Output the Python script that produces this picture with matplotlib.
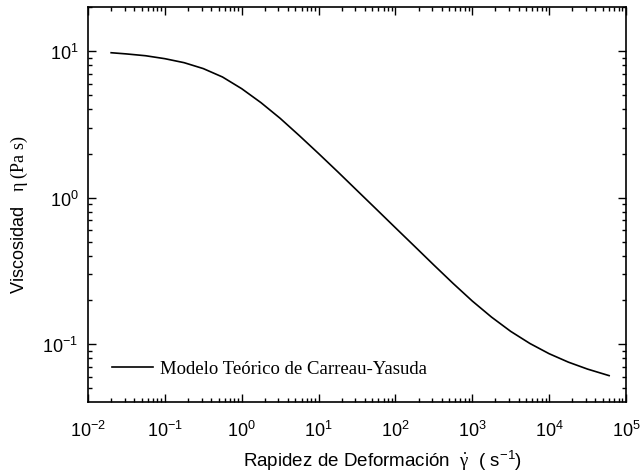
import matplotlib
matplotlib.use("Agg")
import matplotlib.pyplot as plt
from matplotlib.ticker import LogLocator, NullFormatter

plt.rcParams['font.family'] = ['Liberation Sans', 'DejaVu Sans']
plt.rcParams['mathtext.fontset'] = 'custom'
plt.rcParams['mathtext.rm'] = 'Liberation Serif'
plt.rcParams['mathtext.it'] = 'Liberation Serif:italic'

# shear rate (1/s) and viscosity (Pa s)
gamma = [0.02, 0.0316, 0.0562, 0.1, 0.178, 0.316, 0.562, 1.0, 1.78, 3.16,
         5.62, 10, 17.8, 31.6, 56.2, 100, 178, 316, 562, 1000, 1780, 3160,
         5620, 10000, 17800, 31600, 60300]
eta = [9.75, 9.57, 9.30, 8.88, 8.34, 7.60, 6.66, 5.54, 4.45, 3.48,
       2.65, 2.00, 1.50, 1.12, 0.836, 0.623, 0.465, 0.347, 0.260, 0.197,
       0.153, 0.1223, 0.1011, 0.0861, 0.0754, 0.0676, 0.0610]
legend_label = "Modelo Teórico de Carreau-Yasuda"

fig = plt.figure(figsize=(6.41, 4.77), dpi=100)
ax = fig.add_axes([0.1373, 0.1551, 0.8393, 0.8281])

ax.plot(gamma, eta, color='black', lw=1.2, label=legend_label)
ax.set_xscale('log')
ax.set_yscale('log')
ax.set_xlim(1e-2, 1e5)
ax.set_ylim(0.0403, 20)

ax.xaxis.set_major_locator(LogLocator(base=10, numticks=10))
ax.xaxis.set_minor_locator(LogLocator(base=10, subs=range(2, 10), numticks=20))
ax.yaxis.set_minor_locator(LogLocator(base=10, subs=range(2, 10), numticks=20))
ax.yaxis.set_minor_formatter(NullFormatter())
ax.xaxis.set_minor_formatter(NullFormatter())

ax.tick_params(which='both', direction='in', top=True, right=True,
               labelsize=13, width=1.0)
ax.tick_params(which='major', length=6, pad=7)
ax.tick_params(axis='x', which='major', pad=13)
ax.tick_params(which='minor', length=3)
for s in ax.spines.values():
    s.set_linewidth(1.2)

ax.set_xlabel("Rapidez de Deformación  $\\dot{\\mathrm{γ}}$  ( s$\\mathdefault{^{-1}}$)",
              fontsize=13.5)
ax.xaxis.set_label_coords(0.548, -0.115)
ax.set_ylabel("Viscosidad   $\\mathrm{η\\ (Pa\\ s)}$", fontsize=13)
ax.yaxis.set_label_coords(-0.108, 0.477)

ax.legend(loc='center left', bbox_to_anchor=(0.045, 0.084), frameon=False,
          borderpad=0, borderaxespad=0, handlelength=2.2, handletextpad=0.37,
          prop={'family': 'Liberation Serif', 'size': 13.5})

fig.savefig("out.png", dpi=100)
